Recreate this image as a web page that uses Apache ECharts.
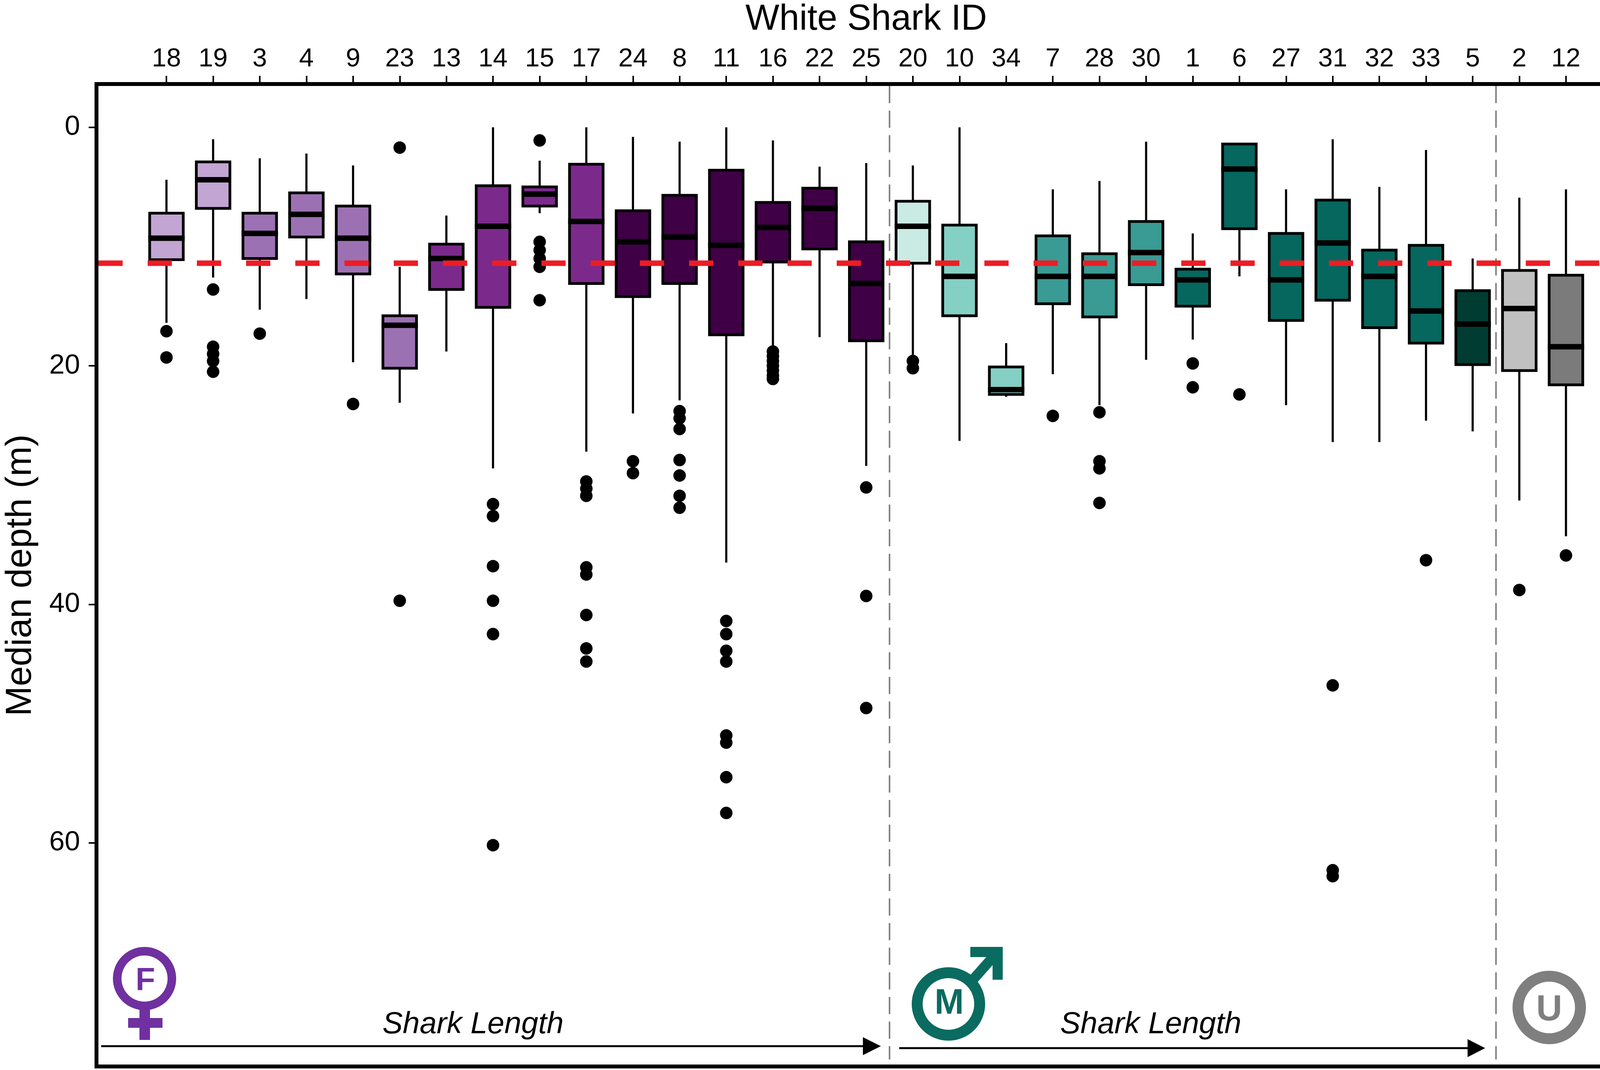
<!DOCTYPE html>
<html>
<head>
<meta charset="utf-8">
<title>White shark median depth</title>
<script src="https://cdn.jsdelivr.net/npm/echarts@6/dist/echarts.min.js"></script>
<style>
    html, body { margin: 0; padding: 0; background: #fff; }
    #main { width: 4200px; height: 2738px; }
</style>
</head>
<body>
<div id="main"></div>
<script>
// shark ids, in plotting order (females, males, unknown)
var sharkIds = ['18', '19', '3', '4', '9', '23', '13', '14', '15', '17', '24', '8', '11', '16', '22', '25',
                '20', '10', '34', '7', '28', '30', '1', '6', '27', '31', '32', '33', '5',
                '2', '12'];

// box statistics, median depth (m)
var minDepth = [4.4, 1.0, 2.6, 2.2, 3.2, 11.7, 7.4, 0.0, 2.8, 0.0, 0.8, 1.2, 0.0, 1.1, 3.3, 3.0,
                3.2, 0.0, 18.1, 5.2, 4.5, 1.2, 8.9, 1.4, 5.2, 1.0, 5.0, 1.9, 11.0,
                5.9, 5.2];
var q1 = [7.2, 2.9, 7.2, 5.5, 6.6, 15.8, 9.8, 4.9, 5.0, 3.1, 7.0, 5.7, 3.6, 6.3, 5.1, 9.6,
          6.2, 8.2, 20.1, 9.1, 10.6, 7.9, 11.9, 1.4, 8.9, 6.1, 10.3, 9.9, 13.7,
          12.0, 12.4];
var median = [9.3, 4.4, 8.9, 7.3, 9.3, 16.6, 11.0, 8.3, 5.6, 7.9, 9.6, 9.2, 9.9, 8.4, 6.8, 13.1,
              8.3, 12.5, 22.0, 12.5, 12.5, 10.5, 12.8, 3.5, 12.8, 9.7, 12.5, 15.4, 16.5,
              15.2, 18.4];
var q3 = [11.1, 6.8, 11.0, 9.2, 12.3, 20.2, 13.6, 15.1, 6.6, 13.1, 14.2, 13.1, 17.4, 11.3, 10.2, 17.9,
          11.4, 15.8, 22.4, 14.8, 15.9, 13.2, 15.0, 8.5, 16.2, 14.5, 16.8, 18.1, 19.9,
          20.4, 21.6];
var maxDepth = [16.4, 12.6, 15.3, 14.4, 19.7, 23.1, 18.8, 28.6, 7.2, 27.2, 24.0, 22.9, 36.5, 18.3, 17.6, 28.4,
                19.2, 26.3, 22.6, 20.7, 23.3, 19.5, 17.8, 12.5, 23.3, 26.4, 26.4, 24.6, 25.5,
                31.3, 34.3];
var outlierDepth = [
    [17.1, 19.3], [13.6, 18.4, 19.0, 19.6, 20.5], [17.3], [], [23.2], [1.7, 39.7], [],
    [31.6, 32.6, 36.8, 39.7, 42.5, 60.2], [1.1, 9.6, 10.3, 11.0, 11.7, 14.5],
    [29.7, 30.3, 30.9, 36.9, 37.5, 40.9, 43.7, 44.8], [28.0, 29.0],
    [23.8, 24.4, 25.3, 27.9, 29.2, 30.9, 31.9], [41.4, 42.5, 43.9, 44.8, 51.0, 51.6, 54.5, 57.5],
    [18.8, 19.2, 19.6, 20.0, 20.4, 20.8, 21.1], [], [30.2, 39.3, 48.7],
    [19.6, 20.2], [], [], [24.2], [23.9, 28.0, 28.6, 31.5], [], [19.8, 21.8], [22.4], [],
    [46.8, 62.3, 62.8], [], [36.3], [],
    [38.8], [35.9]
];
var depthTicks = [0, 20, 40, 60];
var meanDepth = 11.4;          // red dashed line
var groupStarts = ['20', '2']; // first shark of the male and unknown groups

// fill per box
var boxFills = ['#c3a5d3', '#c3a5d3', '#9c71b3', '#9c71b3', '#9c71b3', '#9c71b3', '#7b2a8b', '#7b2a8b',
                '#7b2a8b', '#7b2a8b', '#3f0046', '#3f0046', '#3f0046', '#3f0046', '#3f0046', '#3f0046',
                '#c9ebe4', '#84d0c4', '#84d0c4', '#3a9a94', '#3a9a94', '#3a9a94', '#05675e', '#05675e',
                '#05675e', '#05675e', '#05675e', '#05675e', '#003c32',
                '#c0c0c0', '#7b7b7b'];

var FONT = 'Liberation Sans, Arial, sans-serif';
var PURPLE = '#7030a0', TEAL = '#0a6b60', GREY = '#7f7f7f';

// one empty slot on each side, like the R plot
var categories = [''].concat(sharkIds, ['']);

var boxData = sharkIds.map(function (id, i) {
    return [i + 1, minDepth[i], q1[i], median[i], q3[i], maxDepth[i]];
});
var outlierData = [];
outlierDepth.forEach(function (list, i) {
    list.forEach(function (d) { outlierData.push([i + 1, d]); });
});
var breakData = groupStarts.map(function (id) { return [sharkIds.indexOf(id) + 1, 0]; });

function renderBox(params, api)
{
    var x = api.value(0);
    var band = api.size([1, 0])[0];
    var w = band * 0.72;
    var pMin = api.coord([x, api.value(1)]);
    var pQ1 = api.coord([x, api.value(2)]);
    var pMed = api.coord([x, api.value(3)]);
    var pQ3 = api.coord([x, api.value(4)]);
    var pMax = api.coord([x, api.value(5)]);
    var cx = pMed[0];
    return {
        type: 'group',
        children: [
            {type: 'line', shape: {x1: cx, y1: pMin[1], x2: cx, y2: pQ1[1]}, style: {stroke: '#000', lineWidth: 5.5}},
            {type: 'line', shape: {x1: cx, y1: pQ3[1], x2: cx, y2: pMax[1]}, style: {stroke: '#000', lineWidth: 5.5}},
            {type: 'rect', shape: {x: cx - w / 2, y: pQ1[1], width: w, height: pQ3[1] - pQ1[1]},
             style: {fill: boxFills[params.dataIndex], stroke: '#000', lineWidth: 7}},
            {type: 'rect', shape: {x: cx - w / 2 - 3.5, y: pMed[1] - 7, width: w + 7, height: 14}, style: {fill: '#000'}}
        ]
    };
}

function renderBreak(params, api)
{
    var band = api.size([1, 0])[0];
    var x = api.coord([api.value(0), 0])[0] - band / 2;
    var cs = params.coordSys;
    return {type: 'line', shape: {x1: x, y1: cs.y + 5, x2: x, y2: cs.y + cs.height - 18},
            style: {stroke: '#808080', lineWidth: 4, lineDash: [44, 19]}};
}

function renderMean(params, api)
{
    var y = api.coord([1, api.value(1)])[1];
    var cs = params.coordSys;
    return {type: 'line', shape: {x1: cs.x + 5, y1: y, x2: cs.x + cs.width - 5, y2: y},
            style: {stroke: '#ee1c24', lineWidth: 14, lineDash: [62, 64]}};
}

function label(text, x, y, size, color, extra)
{
    var style = {text: text, x: x, y: y, fill: color, fontSize: size, fontFamily: FONT,
                 textAlign: 'center', textVerticalAlign: 'middle'};
    for (var k in extra) style[k] = extra[k];
    return {type: 'text', z: 20, style: style};
}

var option = {
    animation: false,
    backgroundColor: '#fff',
    grid: {left: 236, top: 212, width: 3952, height: 2517, show: true,
           borderColor: '#000', borderWidth: 10, backgroundColor: 'transparent'},
    xAxis: {
        type: 'category',
        position: 'top',
        data: categories,
        name: 'White Shark ID',
        nameLocation: 'middle',
        nameGap: 118,
        nameTextStyle: {fontSize: 92, fontFamily: FONT, color: '#000'},
        axisLine: {show: false, onZero: false},
        axisTick: {show: true, alignWithLabel: true, length: 21,
                   interval: function (idx, val) { return val !== ''; },
                   lineStyle: {color: '#000', width: 4}},
        axisLabel: {interval: 0, fontSize: 67, fontFamily: FONT, color: '#000', margin: 30},
        splitLine: {show: false}
    },
    yAxis: {
        type: 'value',
        inverse: true,
        min: -3.63,
        max: 78.76,
        name: 'Median depth (m)',
        nameLocation: 'middle',
        nameGap: 147,
        nameTextStyle: {fontSize: 92, fontFamily: FONT, color: '#000'},
        axisLine: {show: false, onZero: false},
        axisTick: {show: true, length: 20, customValues: depthTicks, lineStyle: {color: '#000', width: 4}},
        axisLabel: {fontSize: 71, fontFamily: FONT, color: '#000', margin: 42, customValues: depthTicks},
        splitLine: {show: false}
    },
    series: [
        {type: 'custom', name: 'groups', renderItem: renderBreak, data: breakData,
         encode: {x: 0, y: 1}, z: 1, silent: true},
        {type: 'custom', name: 'boxes', renderItem: renderBox, data: boxData,
         encode: {x: 0, y: [1, 2, 3, 4, 5]}, z: 2},
        {type: 'scatter', name: 'outliers', data: outlierData, symbol: 'circle', symbolSize: 32,
         itemStyle: {color: '#000', opacity: 1}, z: 3},
        {type: 'custom', name: 'mean', renderItem: renderMean, data: [[1, meanDepth]],
         encode: {x: 0, y: 1}, z: 5, silent: true}
    ],
    graphic: {elements: [
        // female
        {type: 'ring', z: 20, shape: {cx: 370, cy: 2504, r: 81, r0: 59}, style: {fill: PURPLE}},
        {type: 'rect', z: 20, shape: {x: 357, y: 2583, width: 27, height: 78}, style: {fill: PURPLE}},
        {type: 'rect', z: 20, shape: {x: 328, y: 2605, width: 88, height: 25}, style: {fill: PURPLE}},
        label('F', 372, 2511, 82, PURPLE, {fontWeight: 'bold'}),
        // male
        {type: 'ring', z: 20, shape: {cx: 2428, cy: 2569, r: 94, r0: 66}, style: {fill: TEAL}},
        {type: 'line', z: 20, shape: {x1: 2488, y1: 2510, x2: 2550, y2: 2440}, style: {stroke: TEAL, lineWidth: 26}},
        {type: 'polyline', z: 20, shape: {points: [[2484, 2436], [2554, 2436], [2554, 2507]]},
         style: {stroke: TEAL, lineWidth: 26, lineJoin: 'miter', fill: null}},
        label('M', 2430, 2569, 90, TEAL, {fontWeight: 'bold'}),
        // unknown
        {type: 'ring', z: 20, shape: {cx: 3966, cy: 2578, r: 94, r0: 66}, style: {fill: GREY}},
        label('U', 3966, 2586, 92, GREY, {fontWeight: 'bold'}),
        // length arrows
        {type: 'line', z: 20, shape: {x1: 259, y1: 2677, x2: 2215, y2: 2677}, style: {stroke: '#000', lineWidth: 5}},
        {type: 'polygon', z: 20, shape: {points: [[2209, 2654], [2255, 2677], [2209, 2700]]}, style: {fill: '#000'}},
        {type: 'line', z: 20, shape: {x1: 2302, y1: 2682, x2: 3762, y2: 2682}, style: {stroke: '#000', lineWidth: 5}},
        {type: 'polygon', z: 20, shape: {points: [[3757, 2659], [3802, 2682], [3757, 2705]]}, style: {fill: '#000'}},
        label('Shark Length', 1211, 2622, 78, '#000', {fontStyle: 'italic'}),
        label('Shark Length', 2946, 2622, 78, '#000', {fontStyle: 'italic'})
    ]}
};

var chart = echarts.init(document.getElementById('main'));
chart.setOption(option);
</script>
</body>
</html>
